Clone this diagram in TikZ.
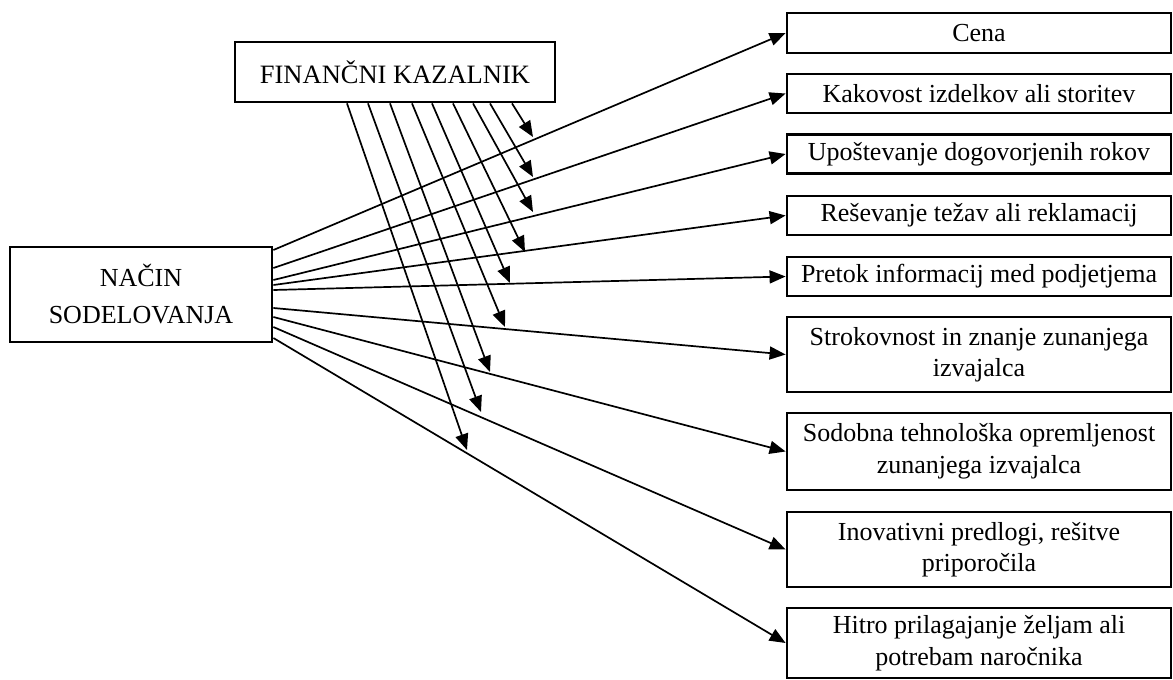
\documentclass[tikz,border=0pt]{standalone}
\usepackage{fontspec}
\setmainfont{Liberation Serif}
\usetikzlibrary{arrows.meta,calc}
\begin{document}
\begin{tikzpicture}[x=1pt,y=-1pt,
  box/.style={draw, line width=2.8pt, inner sep=0pt, align=center,
    font=\fontsize{26}{31.5}\selectfont},
  rbox/.style={box, minimum width=384pt},
  link/.style={line width=1.7pt, -{Triangle[length=16pt,width=13pt]}}]
\useasboundingbox (0,0) rectangle (1173,680);

% main boxes
\node[box, minimum width=262pt, minimum height=95pt, font=\fontsize{26}{37}\selectfont] (nacin) at (141,294.5) {NAČIN\\SODELOVANJA};
\node[box, minimum width=320pt, minimum height=60pt, font=\fontsize{26.5}{29}\selectfont] (fin) at (395,72) {FINANČNI KAZALNIK};

% right boxes
\node[rbox, minimum height=40pt] (r1) at (979,33) {Cena};
\node[rbox, minimum height=39pt] (r2) at (979,93.5) {Kakovost izdelkov ali storitev};
\node[rbox, minimum height=39pt] (r3) at (979,154) {Upoštevanje dogovorjenih rokov};
\node[rbox, minimum height=39pt] (r4) at (979,215.5) {Reševanje težav ali reklamacij};
\node[rbox, minimum height=39pt] (r5) at (979,276.5) {Pretok informacij med podjetjema};
\node[rbox, minimum height=75pt] (r6) at (979,354.5) {Strokovnost in znanje zunanjega\\izvajalca};
\node[rbox, minimum height=77pt] (r7) at (979,451.5) {Sodobna tehnološka opremljenost\\zunanjega izvajalca};
\node[rbox, minimum height=75pt] (r8) at (979,549.5) {Inovativni predlogi, rešitve\\priporočila};
\node[rbox, minimum height=70pt] (r9) at (979,643) {Hitro prilagajanje željam ali\\potrebam naročnika};

% arrows from NAČIN SODELOVANJA
\draw[link] ($(nacin.east)+(0,-44.5)$) -- (r1.west);
\draw[link] ($(nacin.east)+(0,-26.5)$) -- (r2.west);
\draw[link] ($(nacin.east)+(0,-14.5)$) -- (r3.west);
\draw[link] ($(nacin.east)+(0,-9.5)$) -- (r4.west);
\draw[link] ($(nacin.east)+(0,-4.5)$) -- (r5.west);
\draw[link] ($(nacin.east)+(0,13.5)$) -- (r6.west);
\draw[link] ($(nacin.east)+(0,22.5)$) -- (r7.west);
\draw[link] ($(nacin.east)+(0,32.5)$) -- (r8.west);
\draw[link] ($(nacin.east)+(0,43.5)$) -- (r9.west);

% arrows from FINANČNI KAZALNIK
\coordinate (t1) at (467,450);
\coordinate (t2) at (481,412);
\coordinate (t3) at (490,372);
\coordinate (t4) at (505,327);
\coordinate (t5) at (510,283);
\coordinate (t6) at (525,252);
\coordinate (t7) at (533,212);
\coordinate (t8) at (533,177);
\coordinate (t9) at (533,137);
\draw[link] ($(fin.south)+(-48,0)$) -- (t1);
\draw[link] ($(fin.south)+(-27,0)$) -- (t2);
\draw[link] ($(fin.south)+(-5,0)$) -- (t3);
\draw[link] ($(fin.south)+(17,0)$) -- (t4);
\draw[link] ($(fin.south)+(37,0)$) -- (t5);
\draw[link] ($(fin.south)+(58,0)$) -- (t6);
\draw[link] ($(fin.south)+(78,0)$) -- (t7);
\draw[link] ($(fin.south)+(95,0)$) -- (t8);
\draw[link] ($(fin.south)+(117,0)$) -- (t9);
\end{tikzpicture}
\end{document}
